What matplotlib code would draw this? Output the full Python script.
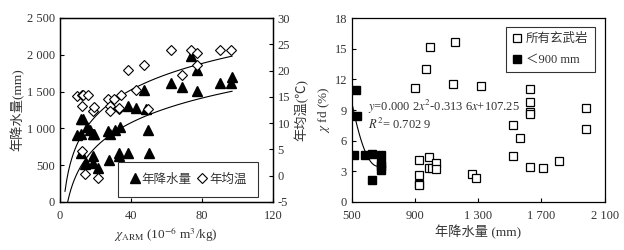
import numpy as np
import matplotlib
matplotlib.use('Agg')
import matplotlib.pyplot as plt

plt.rcParams['font.family'] = ['Liberation Serif', 'Noto Sans CJK SC']
plt.rcParams['mathtext.fontset'] = 'stix'
plt.rcParams['axes.unicode_minus'] = False

# left panel: precipitation / temperature vs chi_ARM
arm_precip = [9.6, 11.8, 11.6, 12.7, 15.2, 16.9, 18.4, 19.3, 11.8, 13.9, 18.4, 18.4,
              21.2, 26.8, 28.0, 31.0, 34.0, 27.7, 33.3, 33.3, 38.2, 38.2, 42.9, 47.2,
              48.3, 49.4, 50.4, 62.5, 68.9, 77.0, 73.8, 77.5, 90.3, 96.4, 97.0, 14.6]
precip = [904, 927, 1130, 1130, 1022, 976, 920, 920, 669, 511, 624, 524,
          466, 963, 927, 976, 1017, 570, 660, 624, 669, 1311, 1279, 1519,
          1257, 976, 660, 1618, 1560, 1514, 1980, 1790, 1618, 1618, 1695, 530]

arm_temp = [9.4, 12.2, 12.7, 15.5, 12.2, 18.4, 19.3, 12.5, 13.9, 21.2, 26.8, 28.0,
            28.0, 30.5, 33.0, 33.0, 34.3, 38.2, 42.7, 47.2, 49.8, 62.7, 68.9, 73.8,
            77.5, 77.2, 90.3, 96.3]
temp = [15.1, 15.3, 15.3, 15.3, 13.2, 12.3, 13.1, 4.7, 0.3, -0.4, 14.5, 13.2,
        12.4, 14.5, 12.6, 12.9, 15.3, 20.2, 16.3, 21.1, 12.6, 23.9, 19.2, 24.0,
        23.4, 21.1, 23.9, 23.9]

# log fits (mm on the left axis)
fit_temp_a, fit_temp_b, fit_temp_x = 518.0, -388.0, (2.8, 97)
fit_prec_a, fit_prec_b, fit_prec_x = 483.0, -705.0, (4.3, 97)

# right panel: chi_fd vs precipitation
all_rain = [902, 968, 993, 1150, 1143, 1315, 927, 927, 927, 927, 991, 991, 1004,
            1033, 1033, 1260, 1283, 1520, 1567, 1520, 1626, 1626, 1626, 1626, 1626,
            1710, 1808, 1985, 1985]
all_fd = [11.2, 13.0, 15.2, 15.7, 11.5, 11.3, 4.1, 2.6, 1.75, 1.62, 4.4, 3.3, 3.3,
          3.86, 3.24, 2.76, 2.33, 7.5, 6.3, 4.54, 11.1, 9.8, 8.8, 8.56, 3.47,
          3.37, 4.05, 9.15, 7.1]
low_rain = [525, 532, 515, 583, 627, 684, 684, 684, 684, 627]
low_fd = [10.93, 8.43, 4.6, 4.6, 4.7, 4.6, 3.8, 3.57, 3.15, 2.17]
quad = (0.000237, -0.3136, 107.25)

txt = '#333333'
fig = plt.figure(figsize=(6.24, 2.5), dpi=100)

ax = fig.add_axes([0.0962, 0.192, 0.341, 0.736])
ax.plot(arm_precip, precip, '^', color='black', markersize=7, label='年降水量')
xs = np.linspace(*fit_temp_x, 100)
ax.plot(xs, fit_temp_a * np.log(xs) + fit_temp_b, color='black', lw=0.8)
xs = np.linspace(*fit_prec_x, 100)
ax.plot(xs, fit_prec_a * np.log(xs) + fit_prec_b, color='black', lw=0.8)
ax.set_xlim(0, 120)
ax.set_ylim(0, 2500)
ax.set_xticks([0, 40, 80, 120])
ax.set_yticks([0, 500, 1000, 1500, 2000, 2500])
ax.set_yticklabels(['0', '500', '1 000', '1 500', '2 000', '2 500'])
ax.set_ylabel('年降水量(mm)', color=txt, fontsize=9.5, labelpad=2)
ax.set_xlabel(r'$\chi_{\rm ARM}$ (10$^{-6}$ m$^3$/kg)', color=txt, fontsize=9.5,
              labelpad=2)

ax2 = ax.twinx()
ax2.plot(arm_temp, temp, 'D', mfc='white', mec='black', markersize=5, mew=0.8,
         label='年均温')
ax2.set_ylim(-5, 30)
ax2.set_yticks(range(-5, 31, 5))
ax2.set_ylabel('年均温(℃)', color=txt, fontsize=9.5, labelpad=3)

h1, l1 = ax.get_legend_handles_labels()
h2, l2 = ax2.get_legend_handles_labels()
leg = ax2.legend(h1 + h2, l1 + l2, ncol=2, loc='lower right', fontsize=9,
                 frameon=True, fancybox=False, edgecolor='black',
                 bbox_to_anchor=(0.93, 0.027), handletextpad=0.1, columnspacing=0.4,
                 borderpad=0.9, handlelength=0.9, borderaxespad=0)
leg.get_frame().set_linewidth(0.8)
for t in leg.get_texts():
    t.set_color(txt)

bx = fig.add_axes([0.564, 0.192, 0.405, 0.736])
bx.plot(all_rain, all_fd, 's', mfc='white', mec='black', markersize=5.5, mew=0.9,
        label='所有玄武岩')
bx.plot(low_rain, low_fd, 's', color='black', markersize=6, label='＜900 mm')
xs = np.linspace(505, 680, 100)
bx.plot(xs, np.polyval(quad, xs), color='black', lw=0.8)
bx.set_xlim(500, 2100)
bx.set_ylim(0, 18)
bx.set_xticks([500, 900, 1300, 1700, 2100])
bx.set_xticklabels(['500', '900', '1 300', '1 700', '2 100'])
bx.set_yticks(range(0, 19, 3))
bx.set_xlabel('年降水量 (mm)', color=txt, fontsize=9.5, labelpad=2)
bx.set_ylabel(r'$\chi$ fd (%)', color=txt, fontsize=9.5, labelpad=2)
bx.text(600, 9.3, r'$y$=0.000 2$x^2$-0.313 6$x$+107.25', fontsize=9, color=txt,
        va='center')
bx.text(600, 7.6, r'$R^2$= 0.702 9', fontsize=9, color=txt, va='center')
leg2 = bx.legend(loc='upper right', fontsize=9, frameon=True, fancybox=False,
                 edgecolor='black', handletextpad=0.3, borderpad=0.5,
                 handlelength=0.8, labelspacing=0.7, bbox_to_anchor=(0.96, 0.951),
                 borderaxespad=0)
leg2.get_frame().set_linewidth(0.8)
for t in leg2.get_texts():
    t.set_color(txt)

for a in (ax, ax2, bx):
    a.tick_params(direction='in', labelsize=9, colors='black', labelcolor=txt,
                  length=3, width=0.8)
    a.tick_params(axis='x', pad=6)
    for s in a.spines.values():
        s.set_linewidth(0.9)

fig.savefig('out.png', dpi=100)
